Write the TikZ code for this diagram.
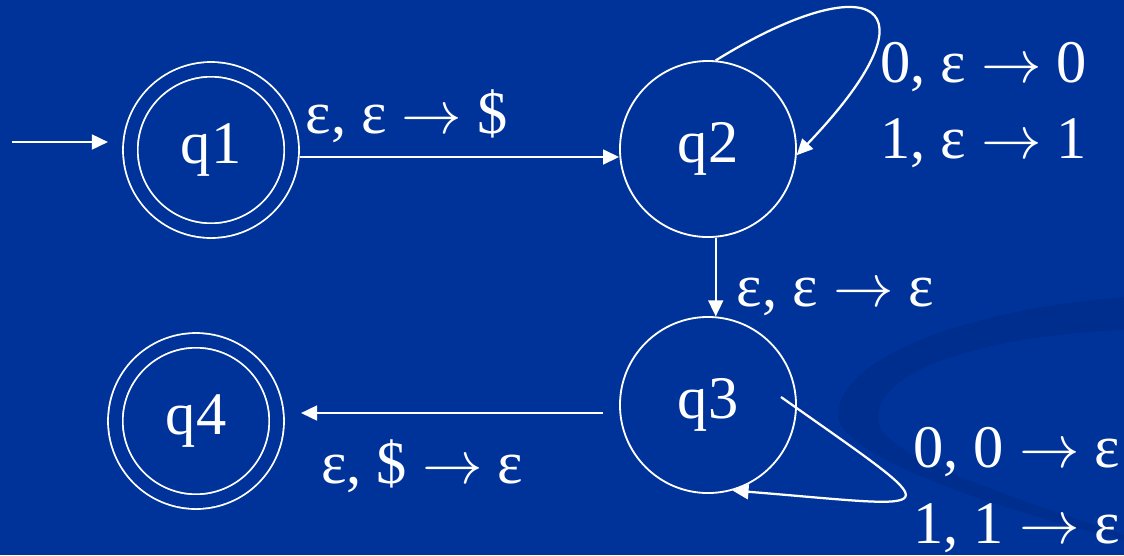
\RequirePackage{fix-cm}
\documentclass[tikz,border=0pt]{standalone}
\usepackage{fontspec}
\setmainfont{Liberation Serif}
\usepackage{tikz}
\usetikzlibrary{arrows.meta, positioning, calc}

\definecolor{slideblue}{RGB}{0,51,153}
\definecolor{swooshblue}{RGB}{0,46,142}

\newcommand{\pushto}{$\rightarrow$}

\begin{document}
\begin{tikzpicture}[
  x=0.025cm, y=-0.025cm,
  font=\fontsize{43}{54}\selectfont,
  state/.style  = {circle, draw=white, line width=1.3pt, text=white,
                   minimum size=4.4cm, inner sep=0pt},
  accept/.style = {state, double=slideblue, double distance=0.32cm,
                   minimum size=4.03cm, outer sep=0.2cm},
  rel/.style    = {-{Triangle[length=0.4cm,width=0.37cm]}, white, line width=1.6pt},
  lbl/.style    = {text=white, inner sep=0pt},
]
  \useasboundingbox (0,0) rectangle (1124,555);
  \fill[slideblue] (0,0) rectangle (1124,555);
  % swoosh of the slide background
  \fill[swooshblue] (1124,297) .. controls (960,310) and (838,360) .. (838,415)
    .. controls (838,450) and (960,500) .. (1124,540) -- (1124,535)
    .. controls (960,480) and (878,450) .. (878,418)
    .. controls (878,365) and (1000,335) .. (1124,330) -- cycle;

  \node[accept] (q1) at (211,150) {q1};
  \node[state]  (q2) at (708,149) {q2};
  \node[state]  (q3) at (708,405) {q3};
  \node[accept] (q4) at (196,421) {q4};

  \coordinate (init)  at (12,142);
  \coordinate (q1out) at ([yshift=-0.175cm]q1.east);
  \coordinate (q3out) at ([yshift=-0.2cm]q3.west);
  \coordinate (q3in)  at ($(q3)+(73,-8)$);

  \draw[rel, shorten >=0.36cm] (init) -- (init -| q1.west);
  \draw[rel] (q1out) -- node[lbl, anchor=base west, pos=0, xshift=0.125cm, yshift=0.6cm]
    {ε, ε \pushto{} \$} (q1out -| q2.west);
  \draw[rel] (q2.85) .. controls (870,-35) and (945,0) .. (q2.-4);
  \draw[rel] (q2.-85) -- node[lbl, anchor=base west, pos=0.875, xshift=0.5cm]
    {ε, ε \pushto{} ε} (q3.85);
  \draw[rel] (q3in) .. controls (955,520) and (950,508) .. (q3.-74);
  \draw[rel, shorten <=0.4cm, shorten >=0.41cm] (q3out) --
    node[lbl, anchor=base west, pos=0.894, yshift=-1.75cm]
    {ε, \$ \pushto{} ε} (q3out -| q4.east);

  \node[lbl, align=left, anchor=north west] (q2lbl) at (880,42)
    {0, ε \pushto{} 0\\1, ε \pushto{} 1};
  \node[lbl, align=left, anchor=north west] (q3lbl) at (913,427)
    {0, 0 \pushto{} ε\\1, 1 \pushto{} ε};
\end{tikzpicture}
\end{document}
